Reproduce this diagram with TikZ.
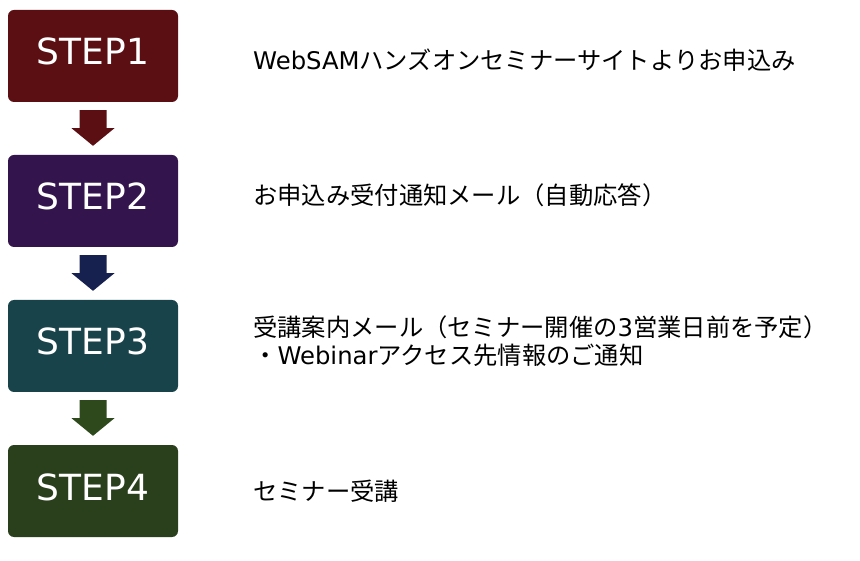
\documentclass[tikz,border=0pt]{standalone}
\usepackage{fontspec}
\setmainfont{DejaVu Sans}
\newfontfamily\jp{Noto Sans CJK JP}
\newfontfamily\lat{DejaVu Sans}
\usetikzlibrary{calc}

\definecolor{stepone}{HTML}{5B0F13}
\definecolor{steptwo}{HTML}{33144C}
\definecolor{stepthree}{HTML}{18434A}
\definecolor{stepfour}{HTML}{2A3F1B}
\definecolor{arrownavy}{HTML}{17214F}
\definecolor{arrowgreen}{HTML}{2E4A1C}

\begin{document}
\begin{tikzpicture}[x=1pt,y=-1pt,
  stepbox/.style={rounded corners=6pt,minimum width=170pt,minimum height=92pt,
    inner sep=0pt,text=white,text height=26pt,text depth=8pt,
    font=\fontsize{36}{40}\selectfont},
  note/.style={anchor=west,align=left,inner sep=0pt,
    font=\jp\fontsize{24.3}{28}\selectfont}]
\useasboundingbox (0,0) rectangle (860,561);
% steps
\node[stepbox,fill=stepone] (s1) at (93,56) {STEP1};
\node[stepbox,fill=steptwo] (s2) at (93,201) {STEP2};
\node[stepbox,fill=stepthree] (s3) at (93,346) {STEP3};
\node[stepbox,fill=stepfour] (s4) at (93,491) {STEP4};
% arrows
\foreach \a/\b/\c in {s1/s2/stepone,s2/s3/arrownavy,s3/s4/arrowgreen}
  \fill[\c] ($(\a.south)+(-13.5,8)$) -- ($(\a.south)+(13.5,8)$)
    -- ($(\a.south)+(13.5,26)$) -- ($(\a.south)+(21.5,26)$)
    -- ($(\b.north)+(0,-9)$) -- ($(\a.south)+(-21.5,26)$)
    -- ($(\a.south)+(-13.5,26)$) -- cycle;
% notes
\node[note] (n1) at (253,60) {{\lat WebSAM}ハンズオンセミナーサイトよりお申込み};
\node[note] (n2) at (253,195) {お申込み受付通知メール（自動応答）};
\node[note] (n3) at (253,341) {受講案内メール（セミナー開催の{\lat 3}営業日前を予定）\\・{\lat Webinar}アクセス先情報のご通知};
\node[note] (n4) at (253,491) {セミナー受講};
\end{tikzpicture}
\end{document}
